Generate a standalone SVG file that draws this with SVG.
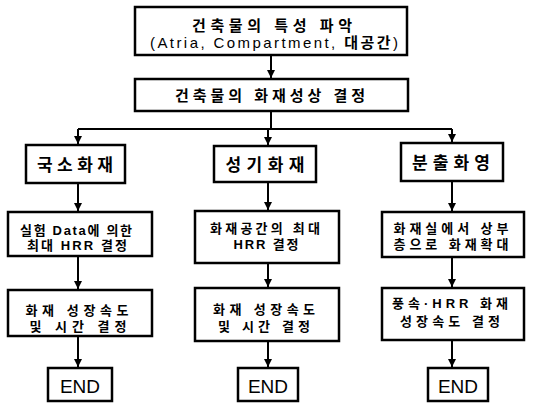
<svg xmlns="http://www.w3.org/2000/svg" width="533" height="403" viewBox="0 0 533 403">
<style>
.box{fill:#fff;stroke:#000;stroke-width:2.5}
.t{font-family:"Liberation Sans","Noto Sans CJK KR",sans-serif;font-weight:bold;fill:#000;text-anchor:middle}
.r{font-weight:normal}
.c{fill:none;stroke:#000;stroke-width:2}
</style>
<defs>
<marker id="ah" markerUnits="userSpaceOnUse" markerWidth="8" markerHeight="9" refX="8" refY="4" orient="auto">
<path d="M0,0 L8,4 L0,8 z" fill="#000"/>
</marker>
</defs>
<rect width="533" height="403" fill="#fff"/>
<g id="connectors">
<line class="c" x1="271" y1="55" x2="271" y2="78" marker-end="url(#ah)"/>
<polyline class="c" points="271,111 271,129"/>
<polyline class="c" points="78,129 452,129"/>
<line class="c" x1="78" y1="129" x2="78" y2="144" marker-end="url(#ah)"/>
<line class="c" x1="268" y1="129" x2="268" y2="145" marker-end="url(#ah)"/>
<line class="c" x1="452" y1="129" x2="452" y2="142" marker-end="url(#ah)"/>
<line class="c" x1="78" y1="183" x2="78" y2="211" marker-end="url(#ah)"/>
<line class="c" x1="268" y1="182" x2="268" y2="210" marker-end="url(#ah)"/>
<line class="c" x1="452" y1="181" x2="452" y2="211" marker-end="url(#ah)"/>
<line class="c" x1="78" y1="256" x2="78" y2="289" marker-end="url(#ah)"/>
<line class="c" x1="268" y1="263" x2="268" y2="287" marker-end="url(#ah)"/>
<line class="c" x1="452" y1="257" x2="452" y2="287" marker-end="url(#ah)"/>
<line class="c" x1="78" y1="336" x2="78" y2="367" marker-end="url(#ah)"/>
<line class="c" x1="268" y1="341" x2="268" y2="367" marker-end="url(#ah)"/>
<line class="c" x1="452" y1="340" x2="452" y2="367" marker-end="url(#ah)"/>
</g>
<g id="n1">
<rect class="box" x="135" y="7" width="272" height="48"/>
<text class="t" x="272" y="31" font-size="15" textLength="160" lengthAdjust="spacing">건축물의 특성 파악</text>
<text class="t" x="274" y="48" font-size="15" textLength="248" lengthAdjust="spacing"><tspan class="r">(Atria, Compartment, </tspan>대공간<tspan class="r">)</tspan></text>
</g>
<g id="n2">
<rect class="box" x="135" y="79" width="273" height="32"/>
<text class="t" x="270" y="101" font-size="15" textLength="190" lengthAdjust="spacing">건축물의 화재성상 결정</text>
</g>
<g id="n3a">
<rect class="box" x="26" y="145" width="99" height="38"/>
<text class="t" x="75" y="171" font-size="17" textLength="76" lengthAdjust="spacing">국소화재</text>
</g>
<g id="n3b">
<rect class="box" x="214" y="146" width="102" height="36"/>
<text class="t" x="265" y="171" font-size="17" textLength="79" lengthAdjust="spacing">성기화재</text>
</g>
<g id="n3c">
<rect class="box" x="401" y="143" width="102" height="38"/>
<text class="t" x="451" y="169" font-size="17" textLength="78" lengthAdjust="spacing">분출화영</text>
</g>
<g id="n4a">
<rect class="box" x="8" y="212" width="144" height="44"/>
<text class="t" x="76" y="235" font-size="13" textLength="112" lengthAdjust="spacing">실험 Data에 의한</text>
<text class="t" x="77" y="250" font-size="13" textLength="100" lengthAdjust="spacing">최대 HRR 결정</text>
</g>
<g id="n4b">
<rect class="box" x="195" y="211" width="144" height="52"/>
<text class="t" x="265" y="233" font-size="13" textLength="110" lengthAdjust="spacing">화재공간의 최대</text>
<text class="t" x="266" y="249" font-size="13" textLength="65" lengthAdjust="spacing">HRR 결정</text>
</g>
<g id="n4c">
<rect class="box" x="382" y="212" width="142" height="45"/>
<text class="t" x="451" y="233" font-size="13" textLength="115" lengthAdjust="spacing">화재실에서 상부</text>
<text class="t" x="451" y="249" font-size="13" textLength="115" lengthAdjust="spacing">층으로 화재확대</text>
</g>
<g id="n5a">
<rect class="box" x="8" y="290" width="144" height="46"/>
<text class="t" x="77" y="315" font-size="13" textLength="103" lengthAdjust="spacing">화재 성장속도</text>
<text class="t" x="78" y="331" font-size="13" textLength="97" lengthAdjust="spacing">및 시간 결정</text>
</g>
<g id="n5b">
<rect class="box" x="195" y="288" width="144" height="53"/>
<text class="t" x="264" y="314" font-size="13" textLength="102" lengthAdjust="spacing">화재 성장속도</text>
<text class="t" x="264" y="331" font-size="13" textLength="92" lengthAdjust="spacing">및 시간 결정</text>
</g>
<g id="n5c">
<rect class="box" x="382" y="288" width="142" height="52"/>
<text class="t" x="450" y="308" font-size="13" textLength="116" lengthAdjust="spacing">풍속·HRR 화재</text>
<text class="t" x="450" y="326" font-size="13" textLength="100" lengthAdjust="spacing">성장속도 결정</text>
</g>
<g id="e1">
<rect class="box" x="48" y="368" width="64" height="33"/>
<text class="t r" x="80" y="393" font-size="19">END</text>
</g>
<g id="e2">
<rect class="box" x="238" y="368" width="60" height="33"/>
<text class="t r" x="268" y="393" font-size="19">END</text>
</g>
<g id="e3">
<rect class="box" x="428" y="368" width="60" height="33"/>
<text class="t r" x="458" y="393" font-size="19">END</text>
</g>
</svg>
